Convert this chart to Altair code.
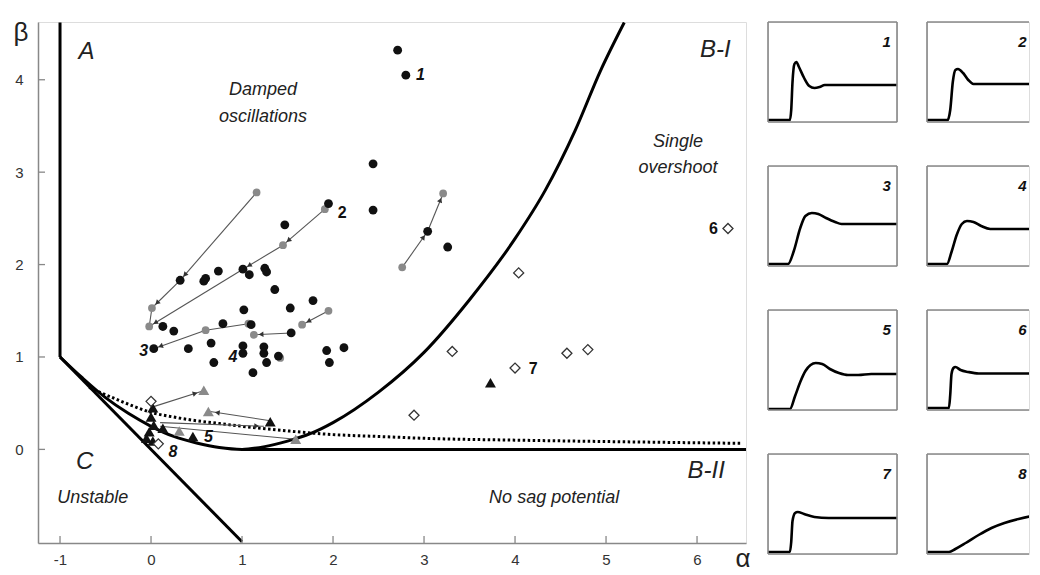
import math
import altair as alt
import pandas as pd

FONT = "Liberation Sans"

# ---------------- main phase diagram: data ----------------
A_MIN, A_MAX = -1.242, 6.538
B_MIN, B_MAX = -1.013, 4.625
W, H = 708, 521
SX = W / (A_MAX - A_MIN)
SY = H / (B_MAX - B_MIN)

# boundary lines
vline_alpha = [-1.0, -1.0]
vline_beta = [1.0, 4.62]
cline_alpha = [-1.0, 1.0]
cline_beta = [1.0, -1.0]
hline_alpha = [1.0, 6.54]
hline_beta = [0.0, 0.0]
curve_alpha = [-1.0, -0.75, -0.5, -0.25, 0.0, 0.25, 0.5, 0.75, 1.0, 1.25, 1.5, 1.75,
               2.0, 2.5, 3.0, 3.5, 4.0, 4.33, 4.66, 4.94, 5.2]
curve_beta = [1.0, 0.77, 0.56, 0.39, 0.25, 0.14, 0.07, 0.02, 0.0, 0.03, 0.09, 0.17,
              0.29, 0.62, 1.05, 1.62, 2.28, 2.8, 3.45, 4.1, 4.62]
dotted_alpha = [-0.68, -0.4, -0.2, 0.0, 0.25, 0.5, 0.75, 1.0, 1.5, 2.0, 2.5, 3.0, 4.0, 5.0, 6.5]
dotted_beta = [0.67, 0.55, 0.47, 0.40, 0.35, 0.31, 0.28, 0.25, 0.20, 0.16, 0.14, 0.12, 0.10, 0.085, 0.065]

# markers
black_circle_alpha = [2.71, 2.80, 2.44, 2.44, 3.26, 3.04, 1.95, 1.47, 0.32, 0.58, 0.60, 0.74,
                      1.01, 1.08, 1.25, 1.27, 1.36, 1.78, 1.53, 1.02, 1.54, 0.13, 0.25, 0.79,
                      1.10, 0.66, 0.03, 0.41, 1.01, 1.01, 1.24, 1.24, 1.27, 1.40, 0.69, 1.12,
                      1.93, 2.12, 1.96]
black_circle_beta = [4.32, 4.05, 3.09, 2.59, 2.19, 2.36, 2.66, 2.43, 1.83, 1.82, 1.85, 1.93,
                     1.95, 1.89, 1.96, 1.92, 1.73, 1.61, 1.53, 1.51, 1.26, 1.33, 1.28, 1.36,
                     1.35, 1.15, 1.09, 1.09, 1.12, 1.04, 1.11, 1.04, 0.94, 1.01, 0.94, 0.83,
                     1.07, 1.10, 0.94]
gray_circle_alpha = [1.16, 1.91, 1.45, 0.01, -0.02, 0.60, 1.07, 1.95, 1.66, 1.13, 2.76, 3.21, 1.42]
gray_circle_beta = [2.78, 2.60, 2.21, 1.53, 1.33, 1.29, 1.36, 1.50, 1.35, 1.24, 1.97, 2.77, 0.99]
black_tri_alpha = [0.02, 1.31, 0.46, 0.13, 0.00, 0.03, -0.02, -0.05, 0.02, 3.73]
black_tri_beta = [0.45, 0.30, 0.14, 0.23, 0.35, 0.26, 0.19, 0.12, 0.09, 0.72]
gray_tri_alpha = [0.58, 0.63, 0.31, 1.59]
gray_tri_beta = [0.64, 0.41, 0.20, 0.11]
diamond_alpha = [6.34, 4.04, 3.31, 4.00, 4.57, 4.80, 2.89, 0.00, 0.08]
diamond_beta = [2.39, 1.91, 1.06, 0.88, 1.04, 1.08, 0.37, 0.52, 0.06]

# arrows (from -> to), head = arrowhead at target
arrow_from_alpha = [1.16, 0.32, 0.01, 1.91, 1.45, 1.01, 1.07, 0.60, 1.95, 1.54, 2.76, 3.04,
                    0.02, 1.31, 0.10, 0.10]
arrow_from_beta = [2.78, 1.83, 1.53, 2.60, 2.21, 1.95, 1.36, 1.29, 1.50, 1.26, 1.97, 2.36,
                   0.46, 0.31, 0.29, 0.25]
arrow_to_alpha = [0.32, 0.01, -0.02, 1.45, 1.01, -0.02, 0.60, 0.03, 1.66, 1.13, 3.04, 3.21,
                  0.56, 0.65, 1.24, 1.59]
arrow_to_beta = [1.83, 1.53, 1.33, 2.21, 1.95, 1.33, 1.29, 1.09, 1.35, 1.24, 2.36, 2.77,
                 0.63, 0.41, 0.25, 0.11]
arrow_head = [True, True, False, True, True, True, False, True, True, True, True, True,
              True, True, True, False]

# texts
region_text = ["A", "Damped", "oscillations", "B-I", "Single", "overshoot", "C", "B-II",
               "Unstable", "No sag potential"]
region_alpha = [-0.71, 1.23, 1.23, 6.20, 5.79, 5.79, -0.73, 6.10, -0.64, 4.43]
region_beta = [4.30, 3.89, 3.60, 4.32, 3.33, 3.04, -0.14, -0.23, -0.53, -0.53]
region_size = [24, 18, 18, 24, 18, 18, 24, 24, 18, 18]

num_italic_text = ["1", "3", "4", "5", "8"]
num_italic_alpha = [2.96, -0.08, 0.90, 0.63, 0.24]
num_italic_beta = [4.05, 1.07, 1.00, 0.13, -0.03]
num_upright_text = ["2", "6", "7"]
num_upright_alpha = [2.10, 6.18, 4.20]
num_upright_beta = [2.56, 2.39, 0.87]

x_ticks = [-1, 0, 1, 2, 3, 4, 5, 6]
y_ticks = [0, 1, 2, 3, 4]

# ---------------- step response panels: data ----------------
panel_t = [
    [0, 0.17, 0.18, 0.19, 0.205, 0.22, 0.24, 0.28, 0.32, 0.36, 0.40, 0.44, 1.0],
    [0, 0.16, 0.18, 0.20, 0.22, 0.24, 0.28, 0.32, 0.36, 1.0],
    [0, 0.155, 0.20, 0.25, 0.29, 0.34, 0.39, 0.45, 0.52, 0.57, 1.0],
    [0, 0.155, 0.19, 0.23, 0.27, 0.31, 0.36, 0.42, 0.49, 1.0],
    [0, 0.17, 0.21, 0.25, 0.29, 0.33, 0.37, 0.42, 0.48, 0.55, 0.62, 0.70, 0.80, 1.0],
    [0, 0.17, 0.18, 0.19, 0.205, 0.22, 0.26, 0.32, 0.40, 1.0],
    [0, 0.17, 0.18, 0.19, 0.21, 0.23, 0.28, 0.36, 0.47, 1.0],
    [0, 0.17, 0.22, 0.30, 0.40, 0.50, 0.60, 0.71, 0.82, 0.92, 1.0],
]
panel_v = [
    [0.02, 0.02, 0.12, 0.40, 0.58, 0.60, 0.55, 0.44, 0.36, 0.34, 0.35, 0.37, 0.37],
    [0.02, 0.02, 0.12, 0.40, 0.52, 0.53, 0.49, 0.42, 0.38, 0.38],
    [0.02, 0.02, 0.15, 0.38, 0.50, 0.53, 0.52, 0.48, 0.44, 0.42, 0.42],
    [0.02, 0.02, 0.14, 0.31, 0.42, 0.45, 0.44, 0.40, 0.37, 0.37],
    [0.01, 0.01, 0.14, 0.28, 0.39, 0.45, 0.47, 0.46, 0.41, 0.37, 0.35, 0.35, 0.36, 0.36],
    [0.02, 0.02, 0.15, 0.36, 0.42, 0.43, 0.40, 0.38, 0.365, 0.365],
    [0.02, 0.02, 0.12, 0.33, 0.41, 0.42, 0.40, 0.37, 0.36, 0.36],
    [0.02, 0.02, 0.05, 0.11, 0.19, 0.26, 0.31, 0.35, 0.38, 0.39, 0.40],
]
panel_labels = ["1", "2", "3", "4", "5", "6", "7", "8"]
panel_label_t = [0.92, 0.74, 0.92, 0.74, 0.92, 0.74, 0.92, 0.74]

# ---------------- build main chart ----------------
xs = alt.Scale(domain=[A_MIN, A_MAX], nice=False, zero=False)
ys = alt.Scale(domain=[B_MIN, B_MAX], nice=False, zero=False)
x_axis = alt.Axis(values=x_ticks, labelExpr="'' + datum.value", tickSize=0, labelPadding=9,
                  labelFontSize=15, labelColor="#333", labelFont=FONT, domainColor="#888",
                  domainWidth=1.5, grid=False, title=None, labelFlush=False)
y_axis = alt.Axis(values=y_ticks, labelExpr="'' + datum.value", tickSize=0, labelPadding=15,
                  labelFontSize=15, labelColor="#333", labelFont=FONT, domainColor="#888",
                  domainWidth=1.5, grid=False, title=None, labelFlush=False)


def X(f):
    return alt.X(f, type="quantitative", scale=xs, axis=x_axis)


def Y(f):
    return alt.Y(f, type="quantitative", scale=ys, axis=y_axis)


segs = []
for name, aa, bb in [("v", vline_alpha, vline_beta), ("c", cline_alpha, cline_beta),
                     ("h", hline_alpha, hline_beta)]:
    for i, (a, b) in enumerate(zip(aa, bb)):
        segs.append({"seg": name, "i": i, "a": a, "b": b})
seg_df = pd.DataFrame(segs)
boundary = alt.Chart(seg_df).mark_line(color="black", strokeWidth=3, clip=True).encode(
    x=X("a"), y=Y("b"), detail="seg:N", order="i:Q")

par_df = pd.DataFrame({"a": curve_alpha, "b": curve_beta, "i": range(len(curve_alpha))})
parabola = alt.Chart(par_df).mark_line(color="black", strokeWidth=3, interpolate="monotone",
                                       clip=True).encode(x=X("a"), y=Y("b"), order="i:Q")

dot_df = pd.DataFrame({"a": dotted_alpha, "b": dotted_beta, "i": range(len(dotted_alpha))})
dotted = alt.Chart(dot_df).mark_line(color="black", strokeWidth=3, strokeDash=[2.5, 2.5],
                                     interpolate="monotone").encode(
    x=X("a"), y=Y("b"), order="i:Q")

arr_df = pd.DataFrame({"a": arrow_from_alpha, "b": arrow_from_beta,
                       "a2": arrow_to_alpha, "b2": arrow_to_beta})
arrows = alt.Chart(arr_df).mark_rule(color="#555", strokeWidth=1.1).encode(
    x=X("a"), y=Y("b"), x2="a2:Q", y2="b2:Q")

heads = []
for fa, fb, ta, tb, h in zip(arrow_from_alpha, arrow_from_beta, arrow_to_alpha, arrow_to_beta, arrow_head):
    if not h:
        continue
    dxp = (ta - fa) * SX
    dyp = (tb - fb) * SY
    L = math.hypot(dxp, dyp)
    f = 8.0 / L
    heads.append({"a": ta - f * (ta - fa), "b": tb - f * (tb - fb),
                  "ang": (math.degrees(math.atan2(dxp, dyp)) + 360) % 360})
head_df = pd.DataFrame(heads)
arrowheads = alt.Chart(head_df).mark_point(shape="triangle", filled=True, color="#333", size=30, opacity=1).encode(
    x=X("a"), y=Y("b"), angle=alt.Angle("ang:Q", scale=None))

bc = alt.Chart(pd.DataFrame({"a": black_circle_alpha, "b": black_circle_beta})).mark_point(
    shape="circle", filled=True, color="#111", size=78, opacity=1).encode(x=X("a"), y=Y("b"))
gc = alt.Chart(pd.DataFrame({"a": gray_circle_alpha, "b": gray_circle_beta})).mark_point(
    shape="circle", filled=True, color="#8a8a8a", size=60, opacity=1).encode(x=X("a"), y=Y("b"))
bt = alt.Chart(pd.DataFrame({"a": black_tri_alpha, "b": black_tri_beta})).mark_point(
    shape="triangle-up", filled=True, color="#111", size=120, opacity=1).encode(x=X("a"), y=Y("b"))
gt = alt.Chart(pd.DataFrame({"a": gray_tri_alpha, "b": gray_tri_beta})).mark_point(
    shape="triangle-up", filled=True, color="#8a8a8a", size=120, opacity=1).encode(x=X("a"), y=Y("b"))
dm = alt.Chart(pd.DataFrame({"a": diamond_alpha, "b": diamond_beta})).mark_point(
    shape="diamond", filled=True, fill="white", stroke="#333", strokeWidth=1.3, size=100, opacity=1).encode(
    x=X("a"), y=Y("b"))

reg_df = pd.DataFrame({"a": region_alpha, "b": region_beta, "t": region_text, "s": region_size})
regions = alt.Chart(reg_df).mark_text(font=FONT, fontStyle="italic", color="#222", baseline="middle").encode(
    x=X("a"), y=Y("b"), text="t:N", size=alt.Size("s:Q", scale=None))

ni = alt.Chart(pd.DataFrame({"a": num_italic_alpha, "b": num_italic_beta, "t": num_italic_text})).mark_text(
    font=FONT, fontStyle="italic", fontWeight="bold", fontSize=16, color="#111", baseline="middle").encode(
    x=X("a"), y=Y("b"), text="t:N")
nu = alt.Chart(pd.DataFrame({"a": num_upright_alpha, "b": num_upright_beta, "t": num_upright_text})).mark_text(
    font=FONT, fontWeight="bold", fontSize=16, color="#111", baseline="middle").encode(
    x=X("a"), y=Y("b"), text="t:N")

xt = alt.Chart(pd.DataFrame({"a": x_ticks})).mark_rule(color="#888", strokeWidth=1.3).encode(
    x=X("a"), y=alt.value(H), y2=alt.value(H - 7))
yt = alt.Chart(pd.DataFrame({"b": y_ticks})).mark_rule(color="#888", strokeWidth=1.3).encode(
    y=Y("b"), x=alt.value(0), x2=alt.value(7))

one = pd.DataFrame({"k": [0]})
beta_lbl = alt.Chart(one).mark_text(font=FONT, fontSize=26, color="#222", baseline="middle").encode(
    x=alt.value(-17), y=alt.value(11), text=alt.value("β"))
alpha_lbl = alt.Chart(one).mark_text(font=FONT, fontSize=26, color="#222", baseline="middle").encode(
    x=alt.value(705), y=alt.value(H + 16), text=alt.value("α"))

main = alt.layer(boundary, parabola, dotted, arrows, arrowheads, gc, bc, gt, bt, dm, regions, ni, nu,
                 xt, yt, beta_lbl, alpha_lbl).properties(width=W, height=H)

# ---------------- step response panels ----------------
PW_FULL, PH = 129, 100
BCOL = "#888"


def panel(i, w, sides):
    frac = w / PW_FULL
    pxs = alt.Scale(domain=[0, frac], nice=False, zero=False)
    pys = alt.Scale(domain=[0, 1], nice=False, zero=False)
    df = pd.DataFrame({"t": panel_t[i], "v": panel_v[i], "o": range(len(panel_t[i]))})
    line = alt.Chart(df).mark_line(color="black", strokeWidth=2.6, clip=True, interpolate="monotone").encode(
        x=alt.X("t:Q", scale=pxs, axis=None), y=alt.Y("v:Q", scale=pys, axis=None), order="o:Q")
    lab = alt.Chart(pd.DataFrame({"t": [panel_label_t[i]], "v": [0.80], "l": [panel_labels[i]]})).mark_text(
        font=FONT, fontStyle="italic", fontWeight="bold", fontSize=15, color="#111").encode(
        x=alt.X("t:Q", scale=pxs, axis=None), y=alt.Y("v:Q", scale=pys, axis=None), text="l:N")
    layers = [line, lab]
    rule = dict(color=BCOL, strokeWidth=1.6)
    if "top" in sides:
        layers.append(alt.Chart(one).mark_rule(**rule).encode(x=alt.value(0), x2=alt.value(w), y=alt.value(0)))
    if "bottom" in sides:
        layers.append(alt.Chart(one).mark_rule(**rule).encode(x=alt.value(0), x2=alt.value(w), y=alt.value(PH)))
    if "left" in sides:
        layers.append(alt.Chart(one).mark_rule(**rule).encode(x=alt.value(0), y=alt.value(0), y2=alt.value(PH)))
    if "right" in sides:
        layers.append(alt.Chart(one).mark_rule(**rule).encode(x=alt.value(w), y=alt.value(0), y2=alt.value(PH)))
    return alt.layer(*layers).properties(width=w, height=PH)


rows = []
for r in range(4):
    left = panel(2 * r, 129, ["top", "bottom", "left", "right"])
    right = panel(2 * r + 1, 102, ["top", "bottom", "left"])
    rows.append(alt.hconcat(left, right, spacing=26))
grid = alt.vconcat(*rows, spacing=40)

chart = alt.hconcat(main, grid, spacing=22, bounds="flush").properties(
    padding={"left": 5, "top": 11, "right": 0, "bottom": 0}
).configure_view(stroke=None).configure(font=FONT)

chart.save("out.html", embed_options={"renderer": "svg", "actions": False})
